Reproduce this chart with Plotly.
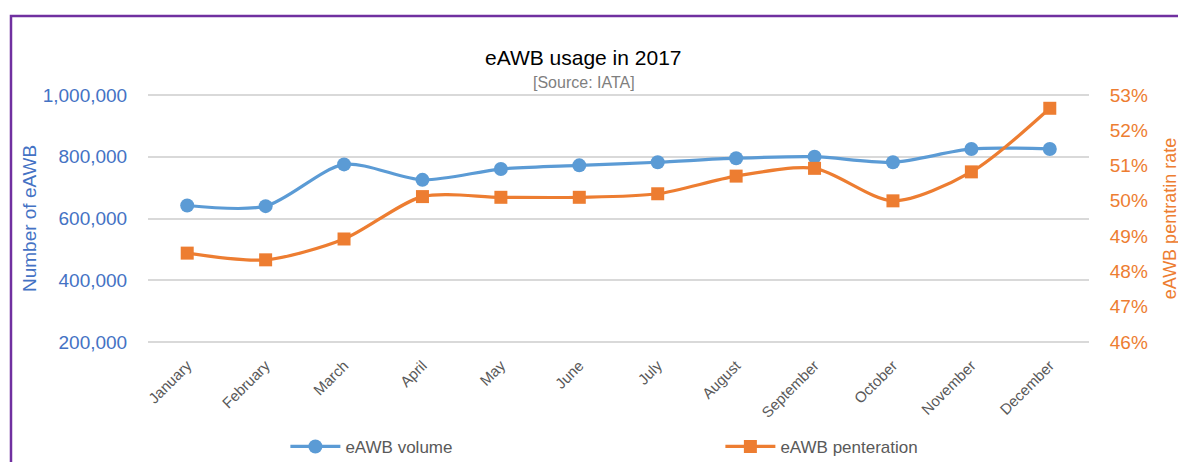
"""eAWB usage in 2017 - dual axis smoothed line chart."""
import plotly.graph_objects as go

months = ["January", "February", "March", "April", "May", "June",
          "July", "August", "September", "October", "November", "December"]
volume = [642000, 640000, 775000, 725000, 760000, 772000,
          782000, 795000, 800000, 782000, 825000, 825000]
penetration = [0.4852, 0.4833, 0.4892, 0.5012, 0.5010, 0.5010,
               0.5020, 0.5070, 0.5092, 0.5000, 0.5082, 0.5262]
vol_ticks = [200000, 400000, 600000, 800000, 1000000]
pct_ticks = [0.46, 0.47, 0.48, 0.49, 0.50, 0.51, 0.52, 0.53]

BLUE = "#5B9BD5"
ORANGE = "#ED7D31"
AXIS_BLUE = "#4472C4"
FONT = "Liberation Sans"

fig = go.Figure()

fig.add_trace(go.Scatter(
    x=months, y=volume, name="eAWB volume",
    mode="lines+markers",
    line=dict(color=BLUE, width=3.2, shape="spline", smoothing=0.8),
    marker=dict(symbol="circle", size=14, color=BLUE),
    yaxis="y"
))

fig.add_trace(go.Scatter(
    x=months, y=penetration, name="eAWB penteration",
    mode="lines+markers",
    line=dict(color=ORANGE, width=3.2, shape="spline", smoothing=0.8),
    marker=dict(symbol="square", size=13, color=ORANGE),
    yaxis="y2"
))

# purple frame around the chart area
fig.add_shape(type="rect", xref="paper", yref="paper",
              x0=-0.1456, x1=1.2, y0=-0.6, y1=1.307,
              line=dict(color="#7030A0", width=2.5), layer="below")

fig.add_annotation(text="eAWB usage in 2017", xref="paper", yref="paper",
                   x=0.463, y=1.195, showarrow=False,
                   font=dict(family=FONT, size=21, color="#000000"))
fig.add_annotation(text="[Source: IATA]", xref="paper", yref="paper",
                   x=0.463, y=1.084, showarrow=False,
                   font=dict(family=FONT, size=16, color="#7f7f7f"))

# page body adds ~8px offset, so the figure is slightly smaller than the window
fig.update_layout(
    width=1178, height=454,
    margin=dict(l=140, r=97, t=85, b=118, autoexpand=False),
    paper_bgcolor="white", plot_bgcolor="white",
    font=dict(family=FONT),
    xaxis=dict(
        range=[-0.5, 11.5],
        tickangle=-45, showgrid=False, showline=False, zeroline=False,
        ticks="outside", ticklen=6, tickcolor="rgba(0,0,0,0)",
        tickfont=dict(size=15, color="#595959"), automargin=False,
    ),
    yaxis=dict(
        range=[194000, 1006000], tickvals=vol_ticks, tickformat=",",
        showgrid=True, gridcolor="#d9d9d9", gridwidth=1.5,
        zeroline=False, showline=False, automargin=False,
        ticks="outside", ticklen=16, tickcolor="rgba(0,0,0,0)",
        tickfont=dict(size=19, color=AXIS_BLUE),
        title=dict(text="Number of eAWB", standoff=1,
                   font=dict(size=19, color=AXIS_BLUE)),
    ),
    yaxis2=dict(
        range=[0.459475, 0.530525], tickvals=pct_ticks, tickformat=".0%",
        overlaying="y", side="right", showgrid=False,
        zeroline=False, showline=False, automargin=False,
        ticks="outside", ticklen=16, tickcolor="rgba(0,0,0,0)",
        tickfont=dict(size=19, color=ORANGE),
        title=dict(text="eAWB pentratin rate", standoff=16,
                   font=dict(size=18, color=ORANGE)),
    ),
    legend=dict(
        orientation="h", x=0.146, y=-0.41, yanchor="middle", xanchor="left",
        itemwidth=50, entrywidth=370, entrywidthmode="pixels",
        font=dict(size=17, color="#595959"),
    ),
)

fig.write_html("out.html")
